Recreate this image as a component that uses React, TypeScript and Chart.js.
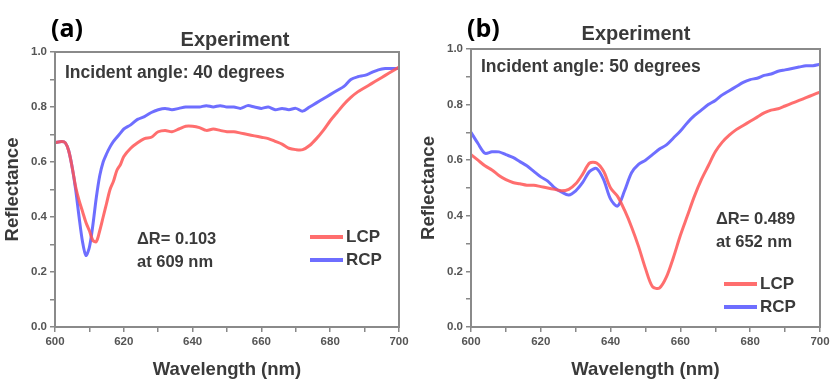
import React, { useEffect, useRef } from "react";
import { Chart, registerables } from "chart.js";
Chart.register(...registerables);

// Panel (a): incident angle 40 degrees
const aWavelength = [600,602,603,604,605,606,607,608,609,610,611,612,613,614,615,616,617,618,619,620,622,624,626,628,630,632,634,636,638,640,642,644,646,648,650,652,654,656,658,660,662,664,666,668,670,672,674,676,678,680,682,684,686,688,690,692,694,696,698,700];
const aLCP = [0.67,0.675,0.67,0.64,0.58,0.51,0.46,0.42,0.38,0.35,0.315,0.31,0.35,0.40,0.45,0.50,0.53,0.57,0.59,0.62,0.65,0.67,0.685,0.69,0.71,0.715,0.71,0.72,0.73,0.73,0.725,0.715,0.72,0.715,0.71,0.71,0.705,0.70,0.695,0.69,0.685,0.675,0.665,0.65,0.645,0.645,0.66,0.685,0.715,0.75,0.78,0.81,0.835,0.855,0.87,0.885,0.90,0.915,0.93,0.945];
const aRCP = [0.67,0.675,0.67,0.64,0.58,0.50,0.40,0.31,0.26,0.29,0.37,0.47,0.55,0.60,0.63,0.655,0.675,0.69,0.705,0.72,0.735,0.755,0.765,0.78,0.79,0.795,0.79,0.795,0.80,0.80,0.80,0.805,0.80,0.805,0.80,0.80,0.795,0.805,0.80,0.795,0.80,0.79,0.795,0.79,0.795,0.785,0.80,0.815,0.83,0.845,0.86,0.875,0.90,0.91,0.915,0.925,0.935,0.94,0.94,0.94];

// Panel (b): incident angle 50 degrees
const bWavelength = [600,602,604,606,608,610,612,614,616,618,620,622,624,626,628,630,632,634,636,638,640,642,644,646,648,650,652,654,656,658,660,662,664,666,668,670,672,674,676,678,680,682,684,686,688,690,692,694,696,698,700];
const bLCP = [0.62,0.60,0.58,0.565,0.545,0.53,0.52,0.515,0.51,0.51,0.505,0.50,0.495,0.49,0.495,0.515,0.55,0.59,0.59,0.56,0.50,0.47,0.42,0.36,0.29,0.21,0.145,0.14,0.18,0.25,0.33,0.40,0.47,0.53,0.58,0.63,0.665,0.69,0.71,0.725,0.74,0.755,0.77,0.78,0.785,0.795,0.805,0.815,0.825,0.835,0.845];
const bRCP = [0.70,0.66,0.625,0.63,0.63,0.62,0.61,0.595,0.58,0.56,0.54,0.525,0.50,0.485,0.475,0.49,0.52,0.56,0.57,0.53,0.46,0.435,0.49,0.555,0.585,0.60,0.62,0.64,0.655,0.68,0.705,0.735,0.76,0.78,0.80,0.815,0.835,0.85,0.865,0.88,0.89,0.895,0.905,0.91,0.92,0.925,0.93,0.935,0.94,0.94,0.945];

const yTicks = [0, 0.2, 0.4, 0.6, 0.8, 1.0];
const xTicks = [600, 620, 640, 660, 680, 700];

const RED = "rgba(255,85,85,0.85)";
const BLUE = "rgba(85,85,255,0.85)";
const TXT = "#3a3a3a";
const FONT = "'Liberation Sans', Arial, sans-serif";

type PanelCfg = {
  letter: string;
  angleText: string;
  dr: string[];
  xs: number[];
  lcp: number[];
  rcp: number[];
  top: number;
  right: number;
  titleX: number;
  titleY: number;
  angleY: number;
  drX: number;
  drY: number;
  legX: number;
  legY: number;
  letterX: number;
};

function Panel({ cfg, left, width }: { cfg: PanelCfg; left: number; width: number }) {
  const ref = useRef<HTMLCanvasElement>(null);
  useEffect(() => {
    const annot = {
      id: "annot",
      afterDatasetsDraw(chart: any) {
        const { ctx, chartArea: a } = chart;
        ctx.save();
        // frame
        ctx.strokeStyle = "#8a8a8a";
        ctx.lineWidth = 2;
        ctx.strokeRect(a.left, a.top, a.right - a.left, a.bottom - a.top);
        ctx.textBaseline = "middle";
        // panel letter
        ctx.fillStyle = "#000";
        ctx.font = "bold 25px 'Open Sans', Lato, sans-serif";
        ctx.textAlign = "left";
        ctx.fillText(cfg.letter, cfg.letterX, 30);
        // title
        ctx.fillStyle = TXT;
        ctx.font = `bold 20px ${FONT}`;
        ctx.textAlign = "center";
        ctx.fillText("Experiment", cfg.titleX, cfg.titleY);
        // angle
        ctx.font = `bold 17.5px ${FONT}`;
        ctx.textAlign = "left";
        ctx.fillText(cfg.angleText, a.left + 10, cfg.angleY);
        // delta R
        ctx.font = `bold 16.5px ${FONT}`;
        ctx.fillText(cfg.dr[0], cfg.drX, cfg.drY);
        ctx.fillText(cfg.dr[1], cfg.drX, cfg.drY + 23);
        // legend
        chart.data.datasets.forEach((ds: any, i: number) => {
          const y = cfg.legY + i * 23;
          ctx.strokeStyle = ds.borderColor;
          ctx.lineWidth = 4;
          ctx.beginPath();
          ctx.moveTo(cfg.legX, y);
          ctx.lineTo(cfg.legX + 33, y);
          ctx.stroke();
          ctx.fillStyle = TXT;
          ctx.font = `bold 17px ${FONT}`;
          ctx.fillText(ds.label, cfg.legX + 36, y);
        });
        ctx.restore();
      },
    };
    const chart = new Chart(ref.current!, {
      type: "line",
      data: {
        datasets: [
          { label: "LCP", data: cfg.xs.map((x, i) => ({ x, y: cfg.lcp[i] })), borderColor: RED, borderWidth: 3, pointRadius: 0, tension: 0.3 },
          { label: "RCP", data: cfg.xs.map((x, i) => ({ x, y: cfg.rcp[i] })), borderColor: BLUE, borderWidth: 3, pointRadius: 0, tension: 0.3 },
        ],
      },
      options: {
        animation: false,
        responsive: false,
        layout: { padding: { top: cfg.top, right: cfg.right, left: 0, bottom: 0 } },
        plugins: { legend: { display: false }, tooltip: { enabled: false } },
        scales: {
          x: {
            type: "linear",
            min: 600,
            max: 700,
            afterFit: (s: any) => { s.height = 56; },
            ticks: {
              stepSize: 10,
              autoSkip: false,
              maxRotation: 0,
              padding: 3,
              color: "#555",
              font: { family: FONT, size: 11.5, weight: "bold" },
              callback: (v: any) => (xTicks.includes(Number(v)) ? String(v) : ""),
            },
            grid: { drawOnChartArea: false, tickLength: 5, color: "#888", lineWidth: 1.5 },
            border: { display: false },
            title: { display: true, text: "Wavelength (nm)", color: TXT, font: { family: FONT, size: 18.5, weight: "bold" }, padding: { top: 2, bottom: 2 } },
          },
          y: {
            min: 0,
            max: 1.0,
            afterFit: (s: any) => { s.width = 55; },
            ticks: {
              stepSize: 0.1,
              autoSkip: false,
              padding: 3,
              color: "#555",
              font: { family: FONT, size: 11.5, weight: "bold" },
              callback: (v: any) => {
                const n = Math.round(Number(v) * 10) / 10;
                return yTicks.some((t) => Math.abs(t - n) < 1e-6) ? n.toFixed(1) : "";
              },
            },
            grid: { drawOnChartArea: false, tickLength: 5, color: "#888", lineWidth: 1.5 },
            border: { display: false },
            title: { display: true, text: "Reflectance", color: TXT, font: { family: FONT, size: 18.5, weight: "bold" }, padding: { top: 2, bottom: 2 } },
          },
        },
      } as any,
      plugins: [annot],
    });
    return () => chart.destroy();
  }, []);
  return (
    <canvas
      ref={ref}
      width={width}
      height={383}
      style={{ position: "absolute", left, top: 0, width, height: 383 }}
    />
  );
}

const panelA: PanelCfg = {
  letter: "(a)", angleText: "Incident angle: 40 degrees", dr: ["\u0394R= 0.103", "at 609 nm"],
  xs: aWavelength, lcp: aLCP, rcp: aRCP, top: 52, right: 17,
  titleX: 235, titleY: 40, angleY: 73, drX: 137, drY: 239, legX: 310, legY: 237, letterX: 51,
};
const panelB: PanelCfg = {
  letter: "(b)", angleText: "Incident angle: 50 degrees", dr: ["\u0394R= 0.489", "at 652 nm"],
  xs: bWavelength, lcp: bLCP, rcp: bRCP, top: 49, right: 16,
  titleX: 220, titleY: 34, angleY: 67, drX: 300, drY: 219, legX: 308, legY: 284, letterX: 51,
};

export default function App() {
  return (
    <div style={{ position: "absolute", left: 0, top: 0, width: 836, height: 383, background: "#fff" }}>
      <Panel cfg={panelA} left={0} width={416} />
      <Panel cfg={panelB} left={416} width={420} />
    </div>
  );
}
